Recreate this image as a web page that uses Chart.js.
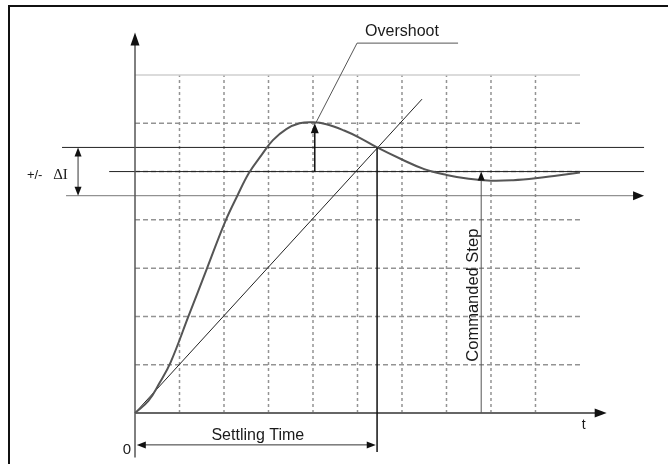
<!DOCTYPE html>
<html>
<head>
<title>Step Response</title>
<script src="https://cdn.jsdelivr.net/npm/chart.js"></script>
<style>
  body { margin: 0; background: #fff; }
  #wrap { width: 668px; height: 464px; }
</style>
</head>
<body>
<div id="wrap"><canvas id="myChart"></canvas></div>
<script>
// step response (time units, signal units)
const respT = [0, 0.3, 0.55, 0.8, 1.2, 1.62, 2.02, 2.3, 2.56, 2.85, 3.1, 3.4, 3.7, 4.0, 4.3, 4.7, 5.05, 5.44, 6.0, 6.5, 7.0, 7.5, 8.0, 8.5, 9.0, 9.5, 10.0];
const respY = [0, 0.25, 0.62, 1.05, 2.0, 3.0, 3.95, 4.5, 4.97, 5.35, 5.65, 5.88, 6.0, 6.02, 5.98, 5.85, 5.7, 5.5, 5.25, 5.05, 4.93, 4.85, 4.81, 4.82, 4.86, 4.92, 4.98];
const diagT = [0, 6.45];
const diagY = [0, 6.5];

const gridX = [1, 2, 3, 4, 5, 6, 7, 8, 9];
const gridY = [1, 2, 3, 4, 5, 6];
const gridTop = 7;
const gridEnd = 10;

const stepLevel = 5;
const tolUpper = 5.5;
const tolLower = 4.5;
const peakT = 4.04;
const peakY = 6.0;
const settleT = 5.44;
const cmdT = 7.78;

const txtOvershoot = 'Overshoot';
const txtSettling = 'Settling Time';
const txtCommanded = 'Commanded Step';
const txtTol = '+/-';
const txtDelta = '\u0394I';
const txtT = 't';
const txtZero = '0';

function arrowHead(ctx, x, y, ang, len, half) {
  ctx.save();
  ctx.translate(x, y);
  ctx.rotate(ang);
  ctx.beginPath();
  ctx.moveTo(0, 0);
  ctx.lineTo(-len, -half);
  ctx.lineTo(-len, half);
  ctx.closePath();
  ctx.fill();
  ctx.restore();
}

const drawing = {
  id: 'drawing',
  beforeDatasetsDraw(chart) {
    const ctx = chart.ctx;
    const xs = chart.scales.x, ys = chart.scales.y;
    const X = v => xs.getPixelForValue(v), Y = v => ys.getPixelForValue(v);
    const seg = (x1, y1, x2, y2, col, w, dash) => {
      ctx.save();
      ctx.strokeStyle = col;
      ctx.lineWidth = w;
      ctx.setLineDash(dash || []);
      ctx.beginPath();
      ctx.moveTo(X(x1), Y(y1));
      ctx.lineTo(X(x2), Y(y2));
      ctx.stroke();
      ctx.restore();
    };
    // frame
    ctx.save();
    ctx.strokeStyle = '#111';
    ctx.lineWidth = 2;
    ctx.beginPath();
    ctx.moveTo(9, chart.height);
    ctx.lineTo(9, 6);
    ctx.lineTo(chart.width, 6);
    ctx.stroke();
    ctx.restore();

    // grid
    gridX.forEach(g => seg(g, 0, g, gridTop, '#939393', 1.5, [3, 3]));
    gridY.forEach(g => seg(0, g, gridEnd, g, '#939393', 1.5, [5, 3]));
    seg(0, gridTop, gridEnd, gridTop, '#cfcfcf', 1.5);

    // tolerance band and commanded level
    seg(-1.64, tolUpper, 11.44, tolUpper, '#222', 1);
    seg(-0.58, stepLevel, 11.44, stepLevel, '#222', 1);
    seg(-1.55, tolLower, 11.3, tolLower, '#777', 1);
    ctx.fillStyle = '#111';
    arrowHead(ctx, X(11.44), Y(tolLower), 0, 11, 4.5);

    // axes
    seg(0, -0.92, 0, 7.7, '#555', 1.5);
    ctx.fillStyle = '#111';
    arrowHead(ctx, X(0), Y(7.88), -Math.PI / 2, 13, 4.5);
    seg(0, 0, 10.4, 0, '#666', 2);
    arrowHead(ctx, X(10.6), Y(0), 0, 12, 4.5);
  },
  afterDatasetsDraw(chart) {
    const ctx = chart.ctx;
    const xs = chart.scales.x, ys = chart.scales.y;
    const X = v => xs.getPixelForValue(v), Y = v => ys.getPixelForValue(v);
    const seg = (x1, y1, x2, y2, col, w) => {
      ctx.save();
      ctx.strokeStyle = col;
      ctx.lineWidth = w;
      ctx.beginPath();
      ctx.moveTo(X(x1), Y(y1));
      ctx.lineTo(X(x2), Y(y2));
      ctx.stroke();
      ctx.restore();
    };
    ctx.fillStyle = '#111';

    // overshoot arrow and leader
    seg(peakT, stepLevel, peakT, peakY - 0.15, '#111', 1.5);
    arrowHead(ctx, X(peakT), Y(peakY), -Math.PI / 2, 10, 4);
    ctx.save();
    ctx.strokeStyle = '#555';
    ctx.lineWidth = 1;
    ctx.beginPath();
    ctx.moveTo(X(4.07), Y(6.02));
    ctx.lineTo(X(4.99), Y(7.66));
    ctx.lineTo(X(7.26), Y(7.66));
    ctx.stroke();
    ctx.restore();

    // settling time
    seg(settleT, tolUpper, settleT, -0.81, '#111', 1.5);
    seg(0.1, -0.66, settleT - 0.1, -0.66, '#333', 1);
    arrowHead(ctx, X(0.04), Y(-0.66), Math.PI, 9, 3.5);
    arrowHead(ctx, X(settleT - 0.03), Y(-0.66), 0, 9, 3.5);

    // commanded step arrow
    seg(cmdT, 0, cmdT, stepLevel - 0.15, '#555', 1);
    arrowHead(ctx, X(cmdT), Y(stepLevel), -Math.PI / 2, 9, 3.5);

    // delta I arrow
    seg(-1.28, tolLower + 0.12, -1.28, tolUpper - 0.12, '#333', 1);
    arrowHead(ctx, X(-1.28), Y(tolUpper), -Math.PI / 2, 9, 3.5);
    arrowHead(ctx, X(-1.28), Y(tolLower), Math.PI / 2, 9, 3.5);

    // texts
    ctx.fillStyle = '#1a1a1a';
    ctx.textBaseline = 'alphabetic';
    ctx.font = '16px "Liberation Sans", Arial, sans-serif';
    ctx.textAlign = 'left';
    ctx.fillText(txtOvershoot, X(5.17), Y(7.81));
    ctx.textAlign = 'center';
    ctx.fillText(txtSettling, X(2.76), Y(-0.56));
    ctx.textAlign = 'right';
    ctx.font = '15px "Liberation Sans", Arial, sans-serif';
    ctx.fillText(txtZero, X(-0.09), Y(-0.85));
    ctx.textAlign = 'left';
    ctx.font = '14px "Liberation Sans", Arial, sans-serif';
    ctx.fillText(txtT, X(10.04), Y(-0.33));
    ctx.font = '13px "Liberation Sans", Arial, sans-serif';
    ctx.fillText(txtTol, X(-2.43), Y(4.84));
    ctx.font = '15px "Liberation Serif", "Times New Roman", serif';
    ctx.fillText(txtDelta, X(-1.84), Y(4.84));

    ctx.save();
    ctx.translate(X(7.70), Y(2.44));
    ctx.rotate(-Math.PI / 2);
    ctx.font = '16.5px "Liberation Sans", Arial, sans-serif';
    ctx.textAlign = 'center';
    ctx.fillText(txtCommanded, 0, 0);
    ctx.restore();
  }
};

function createChart() {
  const ctx = document.getElementById('myChart');
  new Chart(ctx, {
    type: 'scatter',
    data: {
      datasets: [{
        label: 'Response',
        data: respT.map((t, i) => ({ x: t, y: respY[i] })),
        showLine: true,
        borderColor: '#555',
        borderWidth: 2,
        pointRadius: 0,
        tension: 0.4
      }, {
        label: 'Slope',
        data: diagT.map((t, i) => ({ x: t, y: diagY[i] })),
        showLine: true,
        borderColor: '#222',
        borderWidth: 1,
        pointRadius: 0
      }]
    },
    options: {
      responsive: true,
      maintainAspectRatio: false,
      animation: false,
      layout: { padding: 0 },
      plugins: { legend: { display: false }, tooltip: { enabled: false } },
      scales: {
        x: { type: 'linear', min: -3.034, max: 11.978, display: false },
        y: { type: 'linear', min: -1.056, max: 8.553, display: false }
      }
    },
    plugins: [drawing]
  });
}
createChart();
</script>
</body>
</html>
